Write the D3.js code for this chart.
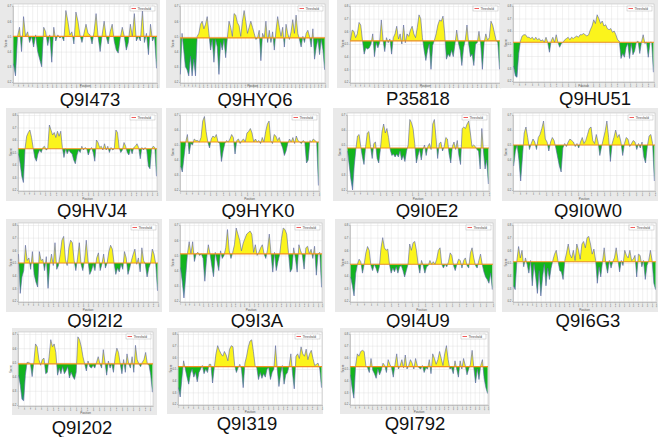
<!DOCTYPE html>
<html>
<head>
<meta charset="utf-8">
<script src="https://cdn.jsdelivr.net/npm/d3@7"></script>
<style>
  body { margin: 0; background: #fff; }
  svg { display: block; }
</style>
</head>
<body>
<script>
// protein ids, one per panel
var names = ['Q9I473', 'Q9HYQ6', 'P35818', 'Q9HU51',
             'Q9HVJ4', 'Q9HYK0', 'Q9I0E2', 'Q9I0W0',
             'Q9I2I2', 'Q9I3A', 'Q9I4U9', 'Q9I6G3',
             'Q9I202', 'Q9I319', 'Q9I792'];

// scores along each sequence (left to right)
var q9i473 = [0.32,0.24,0.50,0.56,0.40,0.63,0.50,0.53,0.46,0.50,0.43,0.51,0.40,0.35,0.30,0.56,0.53,0.44,0.51,0.33,0.56,0.47,0.51,0.49,0.50,0.47,0.67,0.60,0.51,0.53,0.45,0.66,0.60,0.51,0.46,0.52,0.58,0.52,0.51,0.45,0.53,0.65,0.50,0.40,0.51,0.60,0.50,0.45,0.53,0.58,0.47,0.41,0.39,0.49,0.56,0.50,0.41,0.46,0.58,0.50,0.65,0.47,0.50,0.47,0.67,0.46,0.52,0.38,0.58,0.47,0.50,0.29];
var q9hyq6 = [0.25,0.52,0.41,0.30,0.28,0.24,0.37,0.24,0.35,0.24,0.50,0.52,0.58,0.60,0.55,0.58,0.63,0.52,0.41,0.48,0.33,0.48,0.43,0.25,0.46,0.41,0.48,0.36,0.49,0.60,0.56,0.50,0.65,0.64,0.59,0.57,0.50,0.60,0.67,0.60,0.52,0.56,0.60,0.56,0.52,0.48,0.49,0.54,0.34,0.52,0.49,0.60,0.46,0.54,0.46,0.53,0.41,0.54,0.63,0.56,0.50,0.56,0.43,0.58,0.52,0.48,0.53,0.61,0.52,0.64,0.52,0.48,0.43,0.50,0.46,0.52,0.54,0.50,0.43,0.55,0.35,0.43,0.48,0.38,0.48,0.41,0.28];
var p35818 = [0.53,0.61,0.60,0.55,0.58,0.67,0.65,0.53,0.42,0.47,0.46,0.47,0.50,0.58,0.40,0.51,0.47,0.51,0.69,0.53,0.44,0.55,0.51,0.54,0.42,0.55,0.58,0.64,0.54,0.58,0.50,0.65,0.51,0.58,0.56,0.61,0.64,0.58,0.55,0.63,0.73,0.70,0.55,0.45,0.37,0.45,0.50,0.30,0.49,0.53,0.58,0.65,0.69,0.68,0.72,0.58,0.38,0.42,0.40,0.45,0.40,0.50,0.61,0.51,0.45,0.33,0.47,0.53,0.65,0.50,0.40,0.42,0.33,0.50,0.51,0.60,0.50,0.30,0.51,0.58,0.53,0.55,0.68,0.65,0.59,0.53,0.51,0.30];
var q9hu51 = [0.32,0.24,0.23,0.42,0.52,0.56,0.57,0.57,0.55,0.55,0.54,0.55,0.53,0.55,0.53,0.54,0.52,0.53,0.51,0.55,0.51,0.43,0.52,0.55,0.51,0.57,0.51,0.47,0.50,0.51,0.53,0.54,0.55,0.53,0.55,0.54,0.55,0.56,0.55,0.57,0.57,0.58,0.57,0.56,0.57,0.61,0.64,0.69,0.66,0.73,0.70,0.66,0.68,0.64,0.65,0.62,0.61,0.62,0.59,0.60,0.57,0.53,0.52,0.38,0.42,0.39,0.47,0.50,0.38,0.50,0.41,0.44,0.51,0.52,0.42,0.51,0.57,0.50,0.51,0.39,0.51,0.51,0.27];
var q9hvj4 = [0.49,0.41,0.31,0.26,0.53,0.63,0.66,0.68,0.62,0.54,0.46,0.43,0.49,0.52,0.50,0.54,0.55,0.52,0.53,0.72,0.68,0.64,0.66,0.62,0.67,0.63,0.67,0.54,0.46,0.53,0.49,0.52,0.50,0.49,0.44,0.41,0.48,0.52,0.50,0.55,0.52,0.54,0.53,0.48,0.52,0.54,0.50,0.43,0.60,0.58,0.54,0.55,0.52,0.57,0.52,0.55,0.50,0.54,0.52,0.53,0.68,0.66,0.54,0.50,0.52,0.58,0.55,0.50,0.48,0.53,0.49,0.54,0.55,0.57,0.54,0.45,0.54,0.52,0.54,0.52,0.39,0.37,0.53,0.55,0.54,0.31];
var q9hyk0 = [0.36,0.32,0.42,0.52,0.57,0.44,0.51,0.50,0.54,0.53,0.53,0.52,0.55,0.66,0.69,0.59,0.52,0.48,0.54,0.56,0.55,0.57,0.52,0.51,0.39,0.46,0.51,0.53,0.52,0.54,0.57,0.55,0.44,0.53,0.54,0.51,0.53,0.54,0.52,0.58,0.59,0.61,0.58,0.52,0.54,0.52,0.53,0.51,0.55,0.52,0.59,0.64,0.66,0.53,0.51,0.57,0.56,0.53,0.55,0.51,0.48,0.43,0.46,0.51,0.54,0.52,0.55,0.51,0.56,0.53,0.52,0.51,0.53,0.52,0.38,0.40,0.53,0.52,0.54,0.53,0.52,0.23];
var q9i0e2 = [0.46,0.36,0.27,0.20,0.36,0.47,0.56,0.57,0.49,0.42,0.37,0.49,0.58,0.59,0.49,0.41,0.51,0.52,0.41,0.38,0.47,0.59,0.64,0.58,0.61,0.55,0.47,0.43,0.44,0.42,0.44,0.42,0.46,0.40,0.43,0.39,0.46,0.50,0.67,0.65,0.61,0.51,0.38,0.43,0.47,0.40,0.47,0.50,0.43,0.49,0.51,0.47,0.64,0.67,0.55,0.41,0.51,0.52,0.46,0.49,0.55,0.54,0.44,0.38,0.49,0.52,0.47,0.53,0.43,0.37,0.61,0.62,0.61,0.64,0.66,0.58,0.49,0.50,0.49,0.47,0.46,0.34,0.61,0.46,0.34,0.40,0.24];
var q9i0w0 = [0.36,0.46,0.50,0.40,0.26,0.42,0.58,0.62,0.55,0.47,0.51,0.54,0.52,0.47,0.55,0.57,0.61,0.66,0.54,0.52,0.46,0.52,0.55,0.53,0.48,0.42,0.36,0.32,0.48,0.51,0.49,0.52,0.54,0.53,0.52,0.49,0.51,0.48,0.52,0.55,0.51,0.53,0.57,0.61,0.62,0.53,0.51,0.57,0.52,0.43,0.49,0.54,0.59,0.66,0.55,0.39,0.51,0.55,0.60,0.55,0.57,0.52,0.43,0.51,0.55,0.54,0.49,0.51,0.53,0.52,0.47,0.51,0.48,0.52,0.42,0.38,0.49,0.56,0.57,0.51,0.26];
var q9i2i2 = [0.57,0.26,0.39,0.44,0.64,0.52,0.54,0.45,0.59,0.41,0.35,0.31,0.59,0.52,0.53,0.44,0.55,0.30,0.49,0.57,0.48,0.66,0.45,0.48,0.57,0.68,0.71,0.53,0.48,0.62,0.68,0.66,0.52,0.44,0.54,0.66,0.49,0.44,0.52,0.68,0.52,0.41,0.44,0.49,0.44,0.54,0.58,0.44,0.49,0.57,0.46,0.50,0.59,0.64,0.61,0.50,0.41,0.46,0.43,0.49,0.45,0.59,0.54,0.41,0.46,0.52,0.57,0.61,0.49,0.54,0.43,0.62,0.52,0.49,0.39,0.46,0.50,0.61,0.57,0.49,0.28];
var q9i3a = [0.42,0.33,0.22,0.36,0.51,0.59,0.51,0.59,0.46,0.51,0.52,0.50,0.51,0.48,0.33,0.48,0.57,0.51,0.43,0.36,0.52,0.46,0.40,0.53,0.48,0.50,0.55,0.67,0.53,0.48,0.52,0.57,0.68,0.64,0.60,0.53,0.58,0.61,0.64,0.65,0.66,0.64,0.52,0.57,0.50,0.52,0.55,0.57,0.51,0.48,0.54,0.64,0.51,0.39,0.52,0.40,0.46,0.51,0.61,0.68,0.67,0.64,0.52,0.39,0.41,0.55,0.48,0.39,0.57,0.53,0.50,0.41,0.55,0.56,0.51,0.54,0.48,0.56,0.37,0.51,0.52,0.29];
var q9i4u9 = [0.39,0.32,0.24,0.42,0.49,0.53,0.51,0.42,0.49,0.58,0.63,0.60,0.48,0.44,0.49,0.46,0.42,0.47,0.62,0.70,0.62,0.60,0.61,0.49,0.42,0.46,0.43,0.47,0.42,0.47,0.48,0.44,0.39,0.44,0.49,0.65,0.60,0.66,0.67,0.60,0.49,0.42,0.52,0.48,0.42,0.47,0.48,0.52,0.49,0.51,0.49,0.53,0.60,0.62,0.49,0.46,0.49,0.47,0.51,0.58,0.56,0.48,0.44,0.49,0.53,0.52,0.46,0.52,0.54,0.48,0.46,0.58,0.62,0.54,0.48,0.46,0.52,0.57,0.49,0.43,0.39,0.37,0.34,0.42,0.29];
var q9i6g3 = [0.32,0.29,0.52,0.63,0.54,0.60,0.47,0.54,0.49,0.42,0.52,0.32,0.49,0.39,0.26,0.44,0.24,0.39,0.49,0.32,0.46,0.37,0.46,0.52,0.57,0.60,0.52,0.44,0.43,0.37,0.52,0.58,0.65,0.57,0.54,0.60,0.52,0.65,0.60,0.53,0.65,0.67,0.62,0.70,0.71,0.65,0.57,0.61,0.52,0.34,0.47,0.39,0.51,0.62,0.49,0.42,0.52,0.46,0.51,0.54,0.62,0.53,0.43,0.52,0.48,0.60,0.56,0.54,0.60,0.52,0.53,0.56,0.39,0.57,0.56,0.47,0.52,0.37,0.48,0.52,0.60,0.52,0.34,0.29];
var q9i202 = [0.41,0.34,0.24,0.23,0.41,0.50,0.50,0.49,0.40,0.50,0.63,0.61,0.52,0.48,0.52,0.53,0.42,0.43,0.54,0.66,0.61,0.63,0.57,0.41,0.46,0.42,0.47,0.42,0.44,0.47,0.39,0.43,0.40,0.38,0.43,0.68,0.66,0.61,0.54,0.49,0.44,0.51,0.47,0.46,0.48,0.46,0.50,0.54,0.49,0.46,0.59,0.50,0.41,0.51,0.46,0.49,0.43,0.54,0.60,0.57,0.49,0.42,0.52,0.43,0.56,0.49,0.46,0.54,0.43,0.62,0.52,0.49,0.47,0.50,0.52,0.57,0.49,0.48,0.41,0.29];
var q9i319 = [0.34,0.26,0.42,0.57,0.50,0.43,0.37,0.46,0.50,0.43,0.47,0.39,0.47,0.50,0.53,0.46,0.50,0.47,0.54,0.54,0.38,0.51,0.63,0.70,0.66,0.63,0.61,0.65,0.62,0.57,0.67,0.70,0.69,0.53,0.47,0.51,0.54,0.50,0.34,0.55,0.61,0.69,0.74,0.75,0.65,0.53,0.51,0.41,0.47,0.42,0.46,0.43,0.50,0.51,0.41,0.47,0.50,0.70,0.50,0.35,0.46,0.53,0.37,0.45,0.47,0.53,0.63,0.46,0.33,0.61,0.63,0.59,0.69,0.63,0.61,0.67,0.58,0.63,0.66,0.59,0.53,0.54,0.55,0.50,0.34];
var q9i792 = [0.45,0.33,0.25,0.53,0.63,0.61,0.65,0.66,0.65,0.53,0.51,0.47,0.59,0.49,0.46,0.42,0.50,0.45,0.49,0.55,0.53,0.47,0.58,0.54,0.51,0.43,0.54,0.63,0.50,0.53,0.58,0.51,0.62,0.50,0.53,0.58,0.55,0.50,0.59,0.53,0.51,0.50,0.53,0.47,0.51,0.50,0.58,0.46,0.63,0.59,0.54,0.58,0.65,0.59,0.53,0.63,0.70,0.58,0.50,0.51,0.46,0.57,0.50,0.43,0.57,0.50,0.59,0.53,0.45,0.50,0.54,0.66,0.51,0.38,0.50,0.41,0.53,0.58,0.42,0.34,0.29];

var scores = [q9i473, q9hyq6, p35818, q9hu51, q9hvj4, q9hyk0, q9i0e2, q9i0w0,
              q9i2i2, q9i3a, q9i4u9, q9i6g3, q9i202, q9i319, q9i792];

// threshold, top of score axis and sequence length of each panel
var thresholds = [0.50, 0.49, 0.525, 0.51, 0.53, 0.52, 0.48, 0.50, 0.50, 0.51, 0.49, 0.51, 0.49, 0.52, 0.52];
var yTops      = [0.7, 0.7, 0.8, 0.8, 0.8, 0.7, 0.7, 0.7, 0.8, 0.7, 0.8, 0.8, 0.7, 0.8, 0.8];
var lengths    = [600, 760, 640, 460, 520, 460, 440, 440, 560, 620, 420, 620, 470, 580, 620];

// layout of the composite: grey frame, white plot area, caption position
// [boxX, boxY, boxW, boxH, plotL, plotT, plotR, plotB, capX, capY]
var frames = [
  [0,   0,   160, 88, 13,  4,   157, 83,  90,  106],
  [166, 0,   163, 88, 180, 4,   325, 83,  255, 106],
  [337, 0,   165, 88, 350, 4,   500, 83,  418, 105],
  [500, 0,   158, 88, 513, 4,   654, 82,  595, 105],
  [6,   108, 156, 93, 18,  113, 157, 191, 92,  217],
  [166, 108, 155, 93, 180, 113, 319, 191, 258, 217],
  [333, 108, 158, 93, 347, 113, 489, 191, 427, 217],
  [502, 108, 156, 93, 513, 113, 655, 191, 588, 217],
  [6,   219, 156, 93, 18,  223, 158, 302, 95,  327],
  [169, 219, 156, 93, 180, 223, 322, 302, 257, 327],
  [335, 219, 161, 93, 350, 223, 493, 302, 418, 327],
  [502, 219, 156, 93, 513, 223, 656, 302, 588, 327],
  [12,  328, 145, 87, 18,  332, 153, 406, 82,  434],
  [167, 328, 156, 86, 178, 332, 322, 405, 247, 430],
  [340, 328, 150, 86, 350, 332, 488, 405, 415, 430]
];

var svg = d3.select('body').append('svg')
  .attr('width', 658)
  .attr('height', 437);

var defs = svg.append('defs');

scores.forEach(function(vals, k){
  var f   = frames[k];
  var len = lengths[k];
  var th  = thresholds[k];
  var g   = svg.append('g');

  var x = d3.scaleLinear().domain([0, len]).range([f[4], f[6]]);
  var y = d3.scaleLinear().domain([0.2, yTops[k]]).range([f[7] - 1, f[5] + 2]);
  var step = (len - 4) / (vals.length - 1);
  var pts = vals.map(function(v, i){ return { pos: 2 + i * step, v: v }; });

  // frame + plot background
  g.append('rect')
    .attr('x', f[0]).attr('y', f[1])
    .attr('width', f[2]).attr('height', f[3])
    .attr('fill', '#e9e9e9');
  g.append('rect')
    .attr('x', f[4]).attr('y', f[5])
    .attr('width', f[6] - f[4]).attr('height', f[7] - f[5])
    .attr('fill', '#fff')
    .attr('stroke', '#b8b8b8')
    .attr('stroke-width', 0.5);

  // grid lines
  var xTicks = d3.range(0, len + 1, 20);
  var yTicks = d3.range(2, Math.round(yTops[k] * 10) + 1).map(function(t){ return t / 10; });

  g.append('g')
    .attr('transform', 'translate(0,' + f[7] + ')')
    .call(d3.axisBottom(x).tickValues(xTicks).tickSize(-(f[7] - f[5])).tickFormat(''))
    .call(function(a){
      a.select('.domain').remove();
      a.selectAll('line').attr('stroke', '#dcdcdc').attr('stroke-width', 0.4);
    });
  g.append('g')
    .attr('transform', 'translate(' + f[4] + ',0)')
    .call(d3.axisLeft(y).tickValues(yTicks).tickSize(-(f[6] - f[4])).tickFormat(''))
    .call(function(a){
      a.select('.domain').remove();
      a.selectAll('line').attr('stroke', '#dcdcdc').attr('stroke-width', 0.4);
    });

  // tick labels (tiny, as in the screenshots)
  g.append('g')
    .attr('transform', 'translate(0,' + f[7] + ')')
    .call(d3.axisBottom(x).tickValues(xTicks).tickSize(0.8).tickPadding(0.6))
    .call(function(a){
      a.select('.domain').attr('stroke', '#999').attr('stroke-width', 0.4);
      a.selectAll('line').attr('stroke', '#999').attr('stroke-width', 0.3);
      a.selectAll('text')
        .attr('font-size', 2.4)
        .attr('fill', '#555')
        .attr('transform', 'rotate(-90)')
        .attr('text-anchor', 'end')
        .attr('dy', '0.3em')
        .attr('x', -1.2)
        .attr('y', 0);
    });
  g.append('g')
    .attr('transform', 'translate(' + f[4] + ',0)')
    .call(d3.axisLeft(y).tickValues(yTicks).tickSize(0.8).tickPadding(0.8).tickFormat(d3.format('.1f')))
    .call(function(a){
      a.select('.domain').attr('stroke', '#999').attr('stroke-width', 0.4);
      a.selectAll('line').attr('stroke', '#999').attr('stroke-width', 0.3);
      a.selectAll('text').attr('font-size', 2.8).attr('fill', '#555');
    });

  g.append('text')
    .attr('transform', 'translate(' + (f[4] - 6) + ',' + ((f[5] + f[7]) / 2) + ') rotate(-90)')
    .attr('text-anchor', 'middle')
    .attr('font-family', 'Liberation Sans, Arial, sans-serif')
    .attr('font-size', 3)
    .attr('fill', '#555')
    .text('Score');
  g.append('text')
    .attr('x', (f[4] + f[6]) / 2)
    .attr('y', f[1] + f[3] - 1.5)
    .attr('text-anchor', 'middle')
    .attr('font-family', 'Liberation Sans, Arial, sans-serif')
    .attr('font-size', 3)
    .attr('fill', '#555')
    .text('Position');

  // clip regions above / below the threshold
  var ty = y(th);
  defs.append('clipPath').attr('id', 'up' + k)
    .append('rect')
    .attr('x', f[4]).attr('y', f[5])
    .attr('width', f[6] - f[4]).attr('height', ty - f[5]);
  defs.append('clipPath').attr('id', 'dn' + k)
    .append('rect')
    .attr('x', f[4]).attr('y', ty)
    .attr('width', f[6] - f[4]).attr('height', f[7] - ty);

  var grad = defs.append('linearGradient')
    .attr('id', 'gr' + k)
    .attr('gradientUnits', 'userSpaceOnUse')
    .attr('x1', 0).attr('x2', 0)
    .attr('y1', ty).attr('y2', f[7]);
  grad.append('stop').attr('offset', 0).attr('stop-color', '#12b816');
  grad.append('stop').attr('offset', 0.7).attr('stop-color', '#14a93a');
  grad.append('stop').attr('offset', 1).attr('stop-color', '#2a7fb0');

  var area = d3.area()
    .x(function(d){ return x(d.pos); })
    .y0(ty)
    .y1(function(d){ return y(d.v); });

  g.append('path')
    .datum(pts)
    .attr('d', area)
    .attr('fill', '#fbf41c')
    .attr('clip-path', 'url(#up' + k + ')');
  g.append('path')
    .datum(pts)
    .attr('d', area)
    .attr('fill', 'url(#gr' + k + ')')
    .attr('clip-path', 'url(#dn' + k + ')');

  g.append('path')
    .datum(pts)
    .attr('d', d3.line().x(function(d){ return x(d.pos); }).y(function(d){ return y(d.v); }))
    .attr('fill', 'none')
    .attr('stroke', '#5763a6')
    .attr('stroke-width', 0.6);

  // threshold line
  g.append('line')
    .attr('x1', f[4]).attr('x2', f[6])
    .attr('y1', ty).attr('y2', ty)
    .attr('stroke', '#f3901e')
    .attr('stroke-width', 1.2);

  // legend
  var lx = f[6] - 27, ly = f[5] + 2;
  g.append('rect')
    .attr('x', lx).attr('y', ly)
    .attr('width', 25).attr('height', 5)
    .attr('fill', '#fff')
    .attr('stroke', '#aaa')
    .attr('stroke-width', 0.4);
  g.append('line')
    .attr('x1', lx + 1.5).attr('x2', lx + 6)
    .attr('y1', ly + 2.5).attr('y2', ly + 2.5)
    .attr('stroke', '#e33')
    .attr('stroke-width', 0.8);
  g.append('text')
    .attr('x', lx + 7.5).attr('y', ly + 3.6)
    .attr('font-family', 'Liberation Sans, Arial, sans-serif')
    .attr('font-size', 3)
    .attr('fill', '#444')
    .text('Threshold');

  // caption
  svg.append('text')
    .attr('x', f[8]).attr('y', f[9])
    .attr('text-anchor', 'middle')
    .attr('font-family', 'Liberation Sans, Arial, sans-serif')
    .attr('font-size', 18.5)
    .attr('fill', '#111')
    .text(names[k]);
});
</script>
</body>
</html>
